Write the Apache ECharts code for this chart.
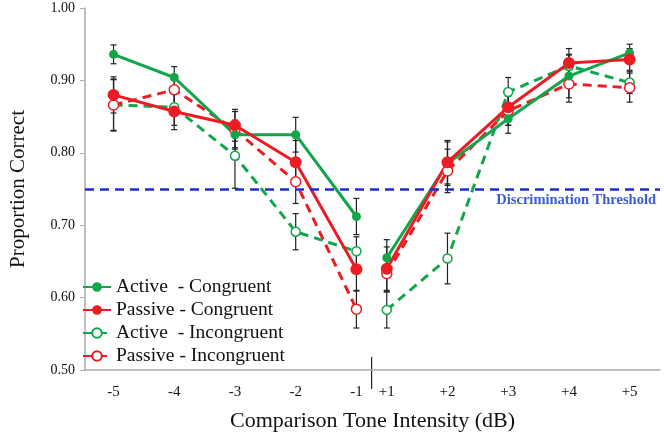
<!DOCTYPE html>
<html>
<head>
<meta charset="utf-8">
<script src="https://cdn.jsdelivr.net/npm/echarts@6/dist/echarts.min.js"></script>
<style>
  html, body { margin: 0; padding: 0; background: #fff; }
  #chart { width: 664px; height: 437px; }
</style>
</head>
<body>
<div id="chart"></div>
<script>
"use strict";

// tone intensity labels and where each sits on the axis (small break between -1 and +1)
var categories = ['-5', '-4', '-3', '-2', '-1', '+1', '+2', '+3', '+4', '+5'];
var positions = [0, 1, 2, 3, 4, 4.5, 5.5, 6.5, 7.5, 8.5];
var yTicks = [0.5, 0.6, 0.7, 0.8, 0.9, 1.0];

var activeCongruent = [0.936, 0.904, 0.825, 0.825, 0.712, 0.655, 0.785, 0.847, 0.906, 0.938];
var passiveCongruent = [0.880, 0.857, 0.838, 0.787, 0.639, 0.640, 0.787, 0.863, 0.924, 0.929];
var activeIncongruent = [0.866, 0.863, 0.796, 0.691, 0.664, 0.583, 0.654, 0.884, 0.920, 0.897];
var passiveIncongruent = [0.866, 0.887, 0.832, 0.760, 0.584, 0.633, 0.775, 0.858, 0.895, 0.890];

var errActiveCongruent = [0.013, 0.015, 0.02, 0.024, 0.025, 0.025, 0.03, 0.02, 0.03, 0.012];
var errPassiveCongruent = [0.025, 0.025, 0.022, 0.03, 0.03, 0.03, 0.03, 0.025, 0.02, 0.015];
var errActiveIncongruent = [0.035, 0.025, 0.045, 0.025, 0.02, 0.025, 0.035, 0.02, 0.015, 0.015];
var errPassiveIncongruent = [0.036, 0.02, 0.025, 0.03, 0.026, 0.025, 0.03, 0.02, 0.025, 0.02];

var threshold = 0.75;

var green = '#12a64b';
var red = '#ec1c24';
var serif = '"Liberation Serif", "DejaVu Serif", serif';

var pairs = function(values, from, to) {
  var out = [];
  for (var i = from; i < to; i++) {
    out.push([positions[i], values[i]]);
  }
  return out;
};

// the two halves (negative and positive dB) are drawn as separate lines
var lineSeries = function(name, values, color, dashed, hollow, size) {
  var lines = [pairs(values, 0, 5), pairs(values, 5, 10)];
  return lines.map(function(data) {
    return {
      name: name,
      type: 'line',
      data: data,
      z: 3,
      symbol: 'circle',
      symbolSize: size,
      showSymbol: true,
      lineStyle: { color: color, width: 3, type: dashed ? [9, 6] : 'solid' },
      itemStyle: hollow ? { color: '#fff', borderColor: color, borderWidth: 1.5 } : { color: color },
      emphasis: { disabled: true },
      animation: false
    };
  });
};

var errorSeries = function(values, errs) {
  var data = values.map(function(v, i) { return [positions[i], v - errs[i], v + errs[i]]; });
  return {
    type: 'custom',
    z: 2,
    silent: true,
    animation: false,
    data: data,
    renderItem: function(params, api) {
      var lo = api.coord([api.value(0), api.value(1)]);
      var hi = api.coord([api.value(0), api.value(2)]);
      var w = 3;
      var style = { stroke: '#222', lineWidth: 1.2 };
      return {
        type: 'group',
        children: [
          { type: 'line', shape: { x1: lo[0], y1: lo[1], x2: hi[0], y2: hi[1] }, style: style },
          { type: 'line', shape: { x1: lo[0] - w, y1: lo[1], x2: lo[0] + w, y2: lo[1] }, style: style },
          { type: 'line', shape: { x1: hi[0] - w, y1: hi[1], x2: hi[0] + w, y2: hi[1] }, style: style }
        ]
      };
    }
  };
};

var series = [];
series.push(errorSeries(activeIncongruent, errActiveIncongruent));
series.push(errorSeries(passiveIncongruent, errPassiveIncongruent));
series.push(errorSeries(activeCongruent, errActiveCongruent));
series.push(errorSeries(passiveCongruent, errPassiveCongruent));
series = series.concat(lineSeries('Active  - Incongruent', activeIncongruent, green, true, true, 9));
series = series.concat(lineSeries('Passive - Incongruent', passiveIncongruent, red, true, true, 10));
series = series.concat(lineSeries('Active  - Congruent', activeCongruent, green, false, false, 9));
series = series.concat(lineSeries('Passive - Congruent', passiveCongruent, red, false, false, 12));

// threshold line
series.push({
  type: 'line',
  data: [],
  markLine: {
    silent: true,
    symbol: 'none',
    animation: false,
    lineStyle: { color: '#1f2bd0', width: 2.5, type: [9, 6] },
    label: {
      show: true,
      position: 'insideEndBottom',
      formatter: 'Discrimination Threshold',
      color: '#3a5ae0',
      fontFamily: serif,
      fontWeight: 'bold',
      fontSize: 14.5,
      distance: [4, 4]
    },
    data: [{ yAxis: threshold }]
  }
});

var chart = echarts.init(document.getElementById('chart'));
chart.setOption({
  animation: false,
  grid: { left: 73, right: 4, top: 8, bottom: 64 },
  legend: {
    data: ['Active  - Congruent', 'Passive - Congruent', 'Active  - Incongruent', 'Passive - Incongruent'],
    orient: 'vertical',
    left: 77,
    top: 272,
    itemWidth: 28,
    itemHeight: 12,
    itemGap: 3,
    textStyle: { fontFamily: serif, fontSize: 19.5, color: '#111' },
    selectedMode: false
  },
  xAxis: {
    type: 'value',
    min: -0.47,
    max: 9.0,
    name: 'Comparison Tone Intensity (dB)',
    nameLocation: 'middle',
    nameGap: 40,
    nameTextStyle: { fontFamily: serif, fontSize: 22, color: '#111' },
    splitLine: { show: false },
    axisLine: { onZero: false, lineStyle: { color: '#aaa', width: 1.5 } },
    axisTick: { show: false },
    axisLabel: {
      customValues: positions,
      margin: 15,
      fontFamily: serif,
      fontSize: 15,
      color: '#111',
      formatter: function(v) {
        var i = positions.indexOf(v);
        return i >= 0 ? categories[i] : '';
      }
    }
  },
  yAxis: {
    type: 'value',
    min: yTicks[0],
    max: yTicks[yTicks.length - 1],
    interval: 0.1,
    name: 'Proportion Correct',
    nameLocation: 'middle',
    nameGap: 56,
    nameTextStyle: { fontFamily: serif, fontSize: 21, color: '#111' },
    splitLine: { show: false },
    axisLine: { show: true, onZero: false, lineStyle: { color: '#aaa', width: 1.5 } },
    axisTick: { show: true, length: 5, lineStyle: { color: '#aaa' } },
    axisLabel: {
      margin: 10,
      fontFamily: serif,
      fontSize: 14,
      color: '#111',
      formatter: function(v) { return v.toFixed(2); }
    }
  },
  series: series
});

// break marker between -1 and +1
var mid = chart.convertToPixel({ gridIndex: 0 }, [(positions[4] + positions[5]) / 2, yTicks[0]]);
chart.setOption({
  graphic: [{
    type: 'line',
    shape: { x1: mid[0], y1: mid[1] - 13, x2: mid[0], y2: mid[1] + 19 },
    style: { stroke: '#222', lineWidth: 1.2 }
  }]
});
</script>
</body>
</html>
